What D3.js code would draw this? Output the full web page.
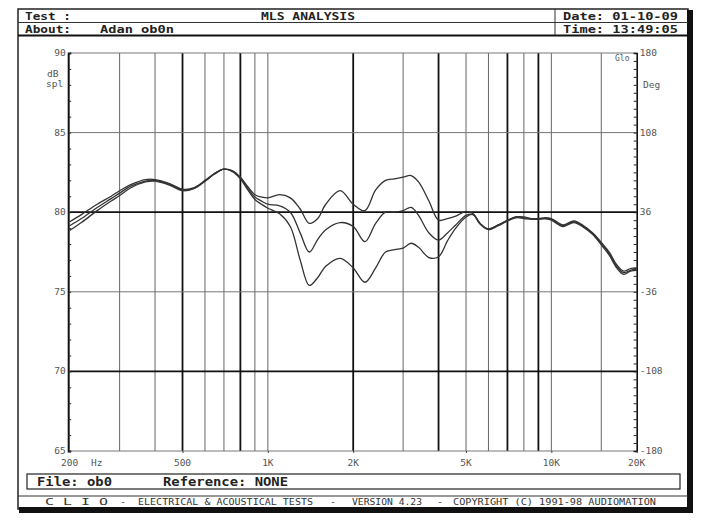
<!DOCTYPE html>
<html><head><meta charset="utf-8">
<script src="https://cdn.jsdelivr.net/npm/d3@7"></script>
<style>
html,body{margin:0;padding:0;background:#fff;}
svg{display:block;}
text{font-family:"DejaVu Sans Mono","Liberation Mono",monospace;}
</style></head>
<body>
<svg id="chart" width="705" height="527"></svg>
<script>
// ---- data ----
const freqs = [200,220,250,280,300,330,370,400,450,500,550,600,650,700,750,800,850,900,950,1000,
  1100,1200,1300,1400,1500,1600,1800,2000,2200,2400,2600,2800,3000,3200,3400,3700,4000,4300,4600,5000,
  5300,5600,6000,6500,7000,7500,8000,8500,9000,9500,10000,11000,12000,13000,14000,15000,16000,17000,18000,19000,20000];
const curveA = [79.4,79.85,80.5,81.0,81.35,81.75,82.05,82.05,81.8,81.45,81.55,82.0,82.45,82.7,82.6,82.2,81.6,81.1,80.95,80.9,
  81.1,80.9,80.2,79.3,79.6,80.5,81.35,80.5,80.1,81.4,82.0,82.1,82.2,82.3,81.9,80.7,79.5,79.6,79.75,80.05,
  79.9,79.3,78.95,79.2,79.5,79.7,79.7,79.6,79.6,79.65,79.6,79.2,79.45,79.15,78.7,78.1,77.5,76.7,76.3,76.45,76.5];
const curveB = [79.15,79.6,80.3,80.85,81.2,81.65,81.95,82.0,81.75,81.4,81.5,81.95,82.45,82.7,82.6,82.15,81.5,80.95,80.7,80.5,
  80.4,80.0,78.7,77.5,78.3,78.9,79.35,79.1,78.15,79.3,80.0,80.0,80.1,80.3,79.8,78.7,78.25,78.7,79.2,79.8,
  79.85,79.3,78.95,79.2,79.45,79.7,79.65,79.6,79.55,79.6,79.55,79.15,79.4,79.1,78.65,78.05,77.4,76.6,76.2,76.35,76.4];
const curveC = [78.85,79.35,80.1,80.7,81.05,81.55,81.9,81.95,81.7,81.35,81.5,81.95,82.4,82.7,82.55,82.1,81.4,80.8,80.5,80.25,
  79.9,79.1,77.0,75.4,75.9,76.6,77.1,76.5,75.6,76.5,77.5,77.65,77.75,78.05,77.8,77.15,77.2,78.2,79.0,79.7,
  79.85,79.25,78.9,79.15,79.45,79.65,79.6,79.55,79.55,79.6,79.5,79.1,79.35,79.05,78.6,77.95,77.3,76.5,76.1,76.3,76.35];
const dbTicks = [90,85,80,75,70,65];
const degTicks = [180,108,36,-36,-108,-180];
const xTickVals = [200,500,1000,2000,5000,10000,20000];
const xTickLabels = ["200","500","1K","2K","5K","10K","20K"];
const gridFreqs = [300,400,500,600,700,800,900,1000,2000,3000,4000,5000,6000,7000,8000,9000,10000,15000];
const heavyGrid = [500,800,2000,4000,7000,9000];
const heavyDb = [80,70];

// ---- layout ----
const svg = d3.select("#chart");
const L = 69.7, R = 636.7, T = 53, B = 451;
const x = d3.scaleLog().domain([200,20000]).range([L,R]);
const y = d3.scaleLinear().domain([65,90]).range([B,T]);
const yd = d3.scaleLinear().domain([-180,180]).range([B,T]);

function txt(g, s, x0, y0, w, size){
  return g.append("text").attr("x",x0).attr("y",y0).attr("font-size",size)
    .attr("textLength",w).attr("lengthAdjust","spacingAndGlyphs").text(s);
}

// outer frame
svg.append("rect").attr("x",18).attr("y",9).attr("width",670).attr("height",500)
  .attr("fill","#fff").attr("stroke","#222").attr("stroke-width",1.5);
svg.append("rect").attr("x",687).attr("y",10).attr("width",6).attr("height",503).attr("fill","#111");
svg.append("rect").attr("x",19).attr("y",507).attr("width",674).attr("height",6).attr("fill","#111");

// header
svg.append("line").attr("x1",18).attr("x2",688).attr("y1",22.5).attr("y2",22.5).attr("stroke","#333").attr("stroke-width",1);
svg.append("line").attr("x1",18).attr("x2",688).attr("y1",35.5).attr("y2",35.5).attr("stroke","#111").attr("stroke-width",2);
svg.append("line").attr("x1",555).attr("x2",555).attr("y1",9).attr("y2",35).attr("stroke","#333").attr("stroke-width",1);
const hdr = svg.append("g").attr("fill","#222").attr("font-weight","bold");
txt(hdr,"Test :",25,20,46,11);
txt(hdr,"MLS ANALYSIS",261,20,94,11);
txt(hdr,"Date: 01-10-09",563,20,115,11);
txt(hdr,"About:",25,33,46,11);
txt(hdr,"Adan ob0n",100,33,74,11);
txt(hdr,"Time: 13:49:05",563,33,115,11);

// grid
const g = svg.append("g");
g.selectAll("line.vg").data(gridFreqs).enter().append("line")
  .attr("x1",d=>x(d)).attr("x2",d=>x(d)).attr("y1",T).attr("y2",B)
  .attr("stroke",d=>heavyGrid.includes(d)?"#111":"#666")
  .attr("stroke-width",d=>heavyGrid.includes(d)?1.8:1);
g.selectAll("line.hg").data(dbTicks).enter().append("line")
  .attr("x1",L).attr("x2",R).attr("y1",d=>y(d)).attr("y2",d=>y(d))
  .attr("stroke",d=>heavyDb.includes(d)?"#111":"#777")
  .attr("stroke-width",d=>heavyDb.includes(d)?1.8:1);

// axes
const leftAx = d3.axisRight(y).tickValues(d3.range(65,91,1)).tickSize(3).tickFormat("");
svg.append("g").attr("transform",`translate(${L-1.5},0)`).call(leftAx)
  .call(s=>{s.select(".domain").attr("stroke","#111").attr("stroke-width",2);s.selectAll(".tick line").attr("stroke","#222");});
const rightAx = d3.axisLeft(yd).tickValues(d3.range(-180,181,7.2)).tickSize(3).tickFormat("");
svg.append("g").attr("transform",`translate(${R},0)`).call(rightAx)
  .call(s=>{s.select(".domain").attr("stroke","#111").attr("stroke-width",1.6);s.selectAll(".tick line").attr("stroke","#222");});
const botAx = d3.axisBottom(x).tickValues(xTickVals).tickSize(2).tickFormat("");
svg.append("g").attr("transform",`translate(0,${B})`).call(botAx)
  .call(s=>{s.select(".domain").remove();s.selectAll(".tick line").attr("stroke","#444");});

// tick labels
const tl = svg.append("g").attr("font-size",9.5).attr("fill","#555");
tl.selectAll("text.yl").data(dbTicks).enter().append("text")
  .attr("x",L-4).attr("y",d=>y(d)+3).attr("text-anchor","end").text(d=>d);
tl.selectAll("text.yr").data(degTicks).enter().append("text")
  .attr("x",R+3).attr("y",d=>yd(d)+3).text(d=>d<0?"-"+Math.abs(d):d);
tl.selectAll("text.xl").data(xTickVals).enter().append("text")
  .attr("x",(d)=>x(d)).attr("y",466).attr("text-anchor","middle")
  .text((d,i)=>xTickLabels[i]);
tl.append("text").attr("x",91).attr("y",466).text("Hz");
tl.append("text").attr("x",47).attr("y",77).text("dB");
tl.append("text").attr("x",46).attr("y",87).text("spl");
tl.append("text").attr("x",643).attr("y",88).text("Deg");
tl.append("text").attr("x",615).attr("y",61).attr("font-size",8).text("Glo");

// curves
const line = d3.line().x((d,i)=>x(freqs[i])).y(d=>y(d)).curve(d3.curveCatmullRom.alpha(0.5));
[curveA,curveB,curveC].forEach(c=>{
  svg.append("path").datum(c).attr("d",line).attr("fill","none")
    .attr("stroke","#333").attr("stroke-width",1.3);
});

// file box
svg.append("rect").attr("x",27).attr("y",474).attr("width",653).attr("height",15)
  .attr("fill","none").attr("stroke","#222").attr("stroke-width",1.2);
const fb = svg.append("g").attr("fill","#222").attr("font-weight","bold");
txt(fb,"File: ob0",37,486,75,12);
txt(fb,"Reference: NONE",163,486,125,12);

// footer
svg.append("line").attr("x1",18).attr("x2",688).attr("y1",496).attr("y2",496).attr("stroke","#333").attr("stroke-width",1);
const ft = svg.append("g").attr("fill","#333");
txt(ft,"C L I O",45,505,63,9.5);
txt(ft,"-",120,505,6,9.5);
txt(ft,"ELECTRICAL & ACOUSTICAL TESTS",138,505,175,9.5);
txt(ft,"-",330,505,6,9.5);
txt(ft,"VERSION 4.23",352,505,70,9.5);
txt(ft,"-",437,505,6,9.5);
txt(ft,"COPYRIGHT (C) 1991-98 AUDIOMATION",453,505,203,9.5);
</script>
</body></html>
